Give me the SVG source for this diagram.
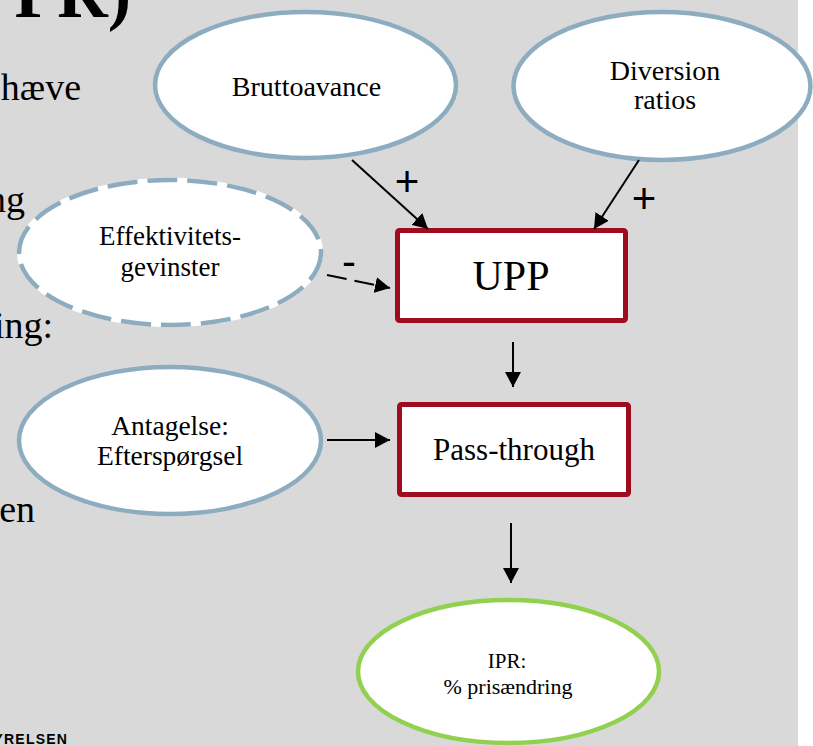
<svg xmlns="http://www.w3.org/2000/svg" width="813" height="746" viewBox="0 0 813 746">
<defs>
<style>
.bg{fill:#d9d9d9}
.ell{fill:#ffffff;stroke:#8eacc0;stroke-width:4.5}
.ellg{fill:#ffffff;stroke:#92d050;stroke-width:4.5}
.box{fill:#ffffff;stroke:#a00c1f;stroke-width:5}
.t{font-family:"Liberation Serif","Times New Roman",serif;fill:#000;text-anchor:middle}
.side{font-family:"Liberation Serif","Times New Roman",serif;fill:#000;font-size:38px;text-anchor:end}
.sign{font-family:"Liberation Sans",Arial,sans-serif;fill:#000;font-size:42px;text-anchor:middle}
.con{stroke:#000;stroke-width:2;fill:none}
</style>
<marker id="ah" markerUnits="userSpaceOnUse" markerWidth="16" markerHeight="16" refX="15" refY="8" orient="auto" viewBox="0 0 16 16">
<path d="M0,0 L15,8 L0,16 z" fill="#000" stroke="none"/>
</marker>
</defs>
<rect class="bg" x="0" y="0" width="798" height="746"/>
<rect x="798" y="0" width="15" height="746" fill="#ffffff"/>

<g id="background-text">
<text x="131" y="17" font-family="Liberation Serif,Times New Roman,serif" font-weight="bold" font-size="70" text-anchor="end" fill="#000">PR)</text>
<text class="side" x="81" y="100">hæve</text>
<text class="side" x="25" y="212">ng</text>
<text class="side" x="53" y="338">ing:</text>
<text class="side" x="35" y="522">en</text>
<text x="-6.5" y="744" font-family="Liberation Sans,Arial,sans-serif" font-weight="bold" font-size="14" letter-spacing="1.2" fill="#000">YRELSEN</text>
</g>

<g id="node-bruttoavance">
<ellipse class="ell" cx="305.5" cy="85" rx="150.5" ry="73"/>
<text class="t" x="306.5" y="96" font-size="28">Bruttoavance</text>
</g>

<g id="node-diversion">
<ellipse class="ell" cx="662" cy="86" rx="148.5" ry="74"/>
<text class="t" x="665" y="80" font-size="28">Diversion</text>
<text class="t" x="665" y="109" font-size="28">ratios</text>
</g>

<g id="node-effektivitet">
<ellipse cx="170" cy="252.5" rx="151" ry="72.5" fill="#ffffff" stroke="#ffffff" stroke-width="4.5"/>
<ellipse cx="170" cy="252.5" rx="151" ry="72.5" fill="none" stroke="#8eacc0" stroke-width="4.5" stroke-dasharray="30 10"/>
<text class="t" x="170" y="245" font-size="27">Effektivitets-</text>
<text class="t" x="170" y="276" font-size="27">gevinster</text>
</g>

<g id="node-antagelse">
<ellipse class="ell" cx="170" cy="440.5" rx="151" ry="73.5"/>
<text class="t" x="170" y="435" font-size="27.5">Antagelse:</text>
<text class="t" x="170" y="465" font-size="27.5">Efterspørgsel</text>
</g>

<g id="node-upp">
<rect class="box" x="397.5" y="230.5" width="228" height="90" rx="2"/>
<text class="t" x="511" y="290" font-size="42">UPP</text>
</g>

<g id="node-passthrough">
<rect class="box" x="399.5" y="404.5" width="229" height="90" rx="2"/>
<text class="t" x="514" y="460" font-size="31">Pass-through</text>
</g>

<g id="node-ipr">
<ellipse class="ellg" cx="508.5" cy="671.5" rx="150.5" ry="71.5"/>
<text class="t" x="507" y="668" font-size="21">IPR:</text>
<text class="t" x="508" y="694" font-size="22">% prisændring</text>
</g>

<g id="connectors">
<line class="con" x1="352" y1="160" x2="428" y2="229" marker-end="url(#ah)"/>
<line class="con" x1="639" y1="160" x2="594" y2="229" marker-end="url(#ah)"/>
<line class="con" x1="327" y1="275" x2="390" y2="288" stroke-dasharray="20 8" marker-end="url(#ah)"/>
<line class="con" x1="513" y1="342" x2="513" y2="387" marker-end="url(#ah)"/>
<line class="con" x1="327" y1="440" x2="390" y2="440" marker-end="url(#ah)"/>
<line class="con" x1="511" y1="523" x2="511" y2="583" marker-end="url(#ah)"/>
<text class="sign" x="407" y="196">+</text>
<text class="sign" x="644" y="213">+</text>
<text class="sign" x="349" y="276">-</text>
</g>
</svg>
